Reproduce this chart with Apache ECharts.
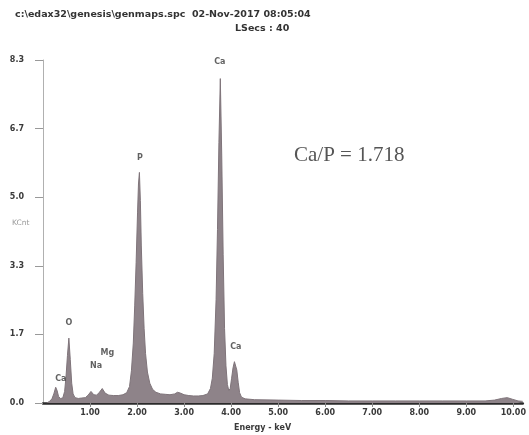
<!DOCTYPE html>
<html>
<head>
<meta charset="utf-8">
<script src="https://cdn.jsdelivr.net/npm/echarts@6/dist/echarts.min.js"></script>
<style>html,body{margin:0;padding:0;background:#fff}#c{width:529px;height:435px}</style>
</head>
<body>
<div id="c"></div>
<script>
// Spectrum: [energy keV, KCnt]
const spectrum = [
  [0.08,0.00],[0.14,0.04],[0.19,0.10],[0.23,0.22],[0.27,0.38],[0.30,0.30],[0.33,0.16],
  [0.37,0.11],[0.42,0.12],[0.46,0.28],[0.49,0.65],[0.52,1.15],[0.55,1.57],[0.58,1.05],
  [0.61,0.48],[0.64,0.22],[0.68,0.13],[0.75,0.11],[0.82,0.12],[0.90,0.13],[0.96,0.19],
  [1.02,0.28],[1.08,0.20],[1.14,0.19],[1.20,0.26],[1.26,0.35],[1.32,0.24],[1.40,0.19],
  [1.50,0.18],[1.60,0.18],[1.70,0.20],[1.78,0.25],[1.84,0.40],[1.88,0.78],[1.92,1.45],
  [1.95,2.35],[1.98,3.40],[2.01,4.60],[2.03,5.30],[2.05,5.58],[2.07,4.90],[2.09,3.80],
  [2.12,2.65],[2.15,1.80],[2.18,1.20],[2.22,0.75],[2.27,0.48],[2.33,0.33],[2.40,0.26],
  [2.50,0.22],[2.60,0.21],[2.70,0.20],[2.80,0.22],[2.86,0.26],[2.92,0.24],[3.00,0.20],
  [3.10,0.18],[3.20,0.17],[3.30,0.17],[3.40,0.18],[3.50,0.22],[3.56,0.35],[3.60,0.60],
  [3.64,1.20],[3.68,2.50],[3.71,4.20],[3.74,6.30],[3.77,7.85],[3.80,6.00],[3.83,3.60],
  [3.86,1.80],[3.89,0.90],[3.92,0.45],[3.95,0.30],[3.98,0.35],[4.01,0.60],[4.04,0.85],
  [4.07,1.00],[4.09,1.04],[4.12,0.80],[4.15,0.50],[4.18,0.25],[4.22,0.14],[4.30,0.10],
  [4.50,0.08],[5.00,0.07],[5.50,0.06],[6.00,0.06],[6.50,0.05],[7.00,0.05],[7.50,0.05],
  [8.00,0.05],[8.50,0.05],[9.00,0.05],[9.40,0.05],[9.60,0.07],[9.75,0.11],[9.87,0.13],
  [9.98,0.09],[10.10,0.05],[10.20,0.04]
];
// Peak labels: [energy, KCnt position, text]
const peakLabels = [
  [3.76,8.26,'Ca'],[2.06,5.93,'P'],[0.55,1.94,'O'],[1.37,1.21,'Mg'],
  [1.13,0.90,'Na'],[0.38,0.58,'Ca'],[4.10,1.36,'Ca']
];
const yTickValues = [0,1.66,3.32,4.98,6.64,8.3];
const yTickLabels = ['0.0','1.7','3.3','5.0','6.7','8.3'];
const xTickValues = [1,2,3,4,5,6,7,8,9,10];
const xTickLabels = ['1.00','2.00','3.00','4.00','5.00','6.00','7.00','8.00','9.00','10.00'];

const chart = echarts.init(document.getElementById('c'), null, {renderer:'canvas'});
const lblFont = {fontFamily:'DejaVu Sans', fontWeight:'bold', fontSize:8, color:'#3a3a3a'};
chart.setOption({
  animation:false,
  backgroundColor:'#fff',
  grid:{left:43, right:0, top:60, bottom:32, containLabel:false},
  xAxis:{
    type:'value', min:0, max:10.2,
    axisLine:{show:true, lineStyle:{color:'#2a2a2a', width:2.5}},
    axisTick:{show:true, customValues:xTickValues, length:4, lineStyle:{color:'#888'}},
    axisLabel:Object.assign({customValues:xTickValues, margin:6,
      formatter:(v)=>{const i=xTickValues.indexOf(v); return i>=0?xTickLabels[i]:'';}}, lblFont),
    splitLine:{show:false}
  },
  yAxis:{
    type:'value', min:0, max:8.3,
    axisLine:{show:true, lineStyle:{color:'#b0b0b0', width:1}},
    axisTick:{show:true, customValues:yTickValues, length:8, lineStyle:{color:'#999'}},
    axisLabel:Object.assign({customValues:yTickValues, margin:19,
      formatter:(v)=>{let i=-1; yTickValues.forEach((t,k)=>{if(Math.abs(t-v)<1e-6)i=k;}); return i>=0?yTickLabels[i]:'';}}, lblFont),
    splitLine:{show:false}
  },
  series:[
    {type:'line', data:spectrum, symbol:'none', smooth:false,
     lineStyle:{color:'#7f747a', width:1},
     areaStyle:{color:'#8e8389', opacity:1}, z:2},
    {type:'scatter', data:peakLabels.map(p=>({value:[p[0],p[1]], name:p[2]})),
     symbolSize:0, silent:true,
     label:Object.assign({show:true, position:'inside', formatter:(p)=>p.name}, lblFont), z:5}
  ],
  graphic:[
    {type:'text', left:15, top:10, style:{text:'c:\\edax32\\genesis\\genmaps.spc  02-Nov-2017 08:05:04',
      font:'bold 9.5px "DejaVu Sans"', fill:'#333'}},
    {type:'text', left:235, top:24, style:{text:'LSecs : 40', font:'bold 9.5px "DejaVu Sans"', fill:'#333'}},
    {type:'text', left:12, top:219, style:{text:'KCnt', font:'7.5px "DejaVu Sans"', fill:'#999'}},
    {type:'text', left:234, top:424, style:{text:'Energy - keV', font:'bold 8px "DejaVu Sans"', fill:'#3a3a3a'}},
    {type:'text', left:294, top:145, style:{text:'Ca/P = 1.718', font:'21px "Liberation Serif"', fill:'#555'}}
  ]
});
</script>
</body>
</html>
